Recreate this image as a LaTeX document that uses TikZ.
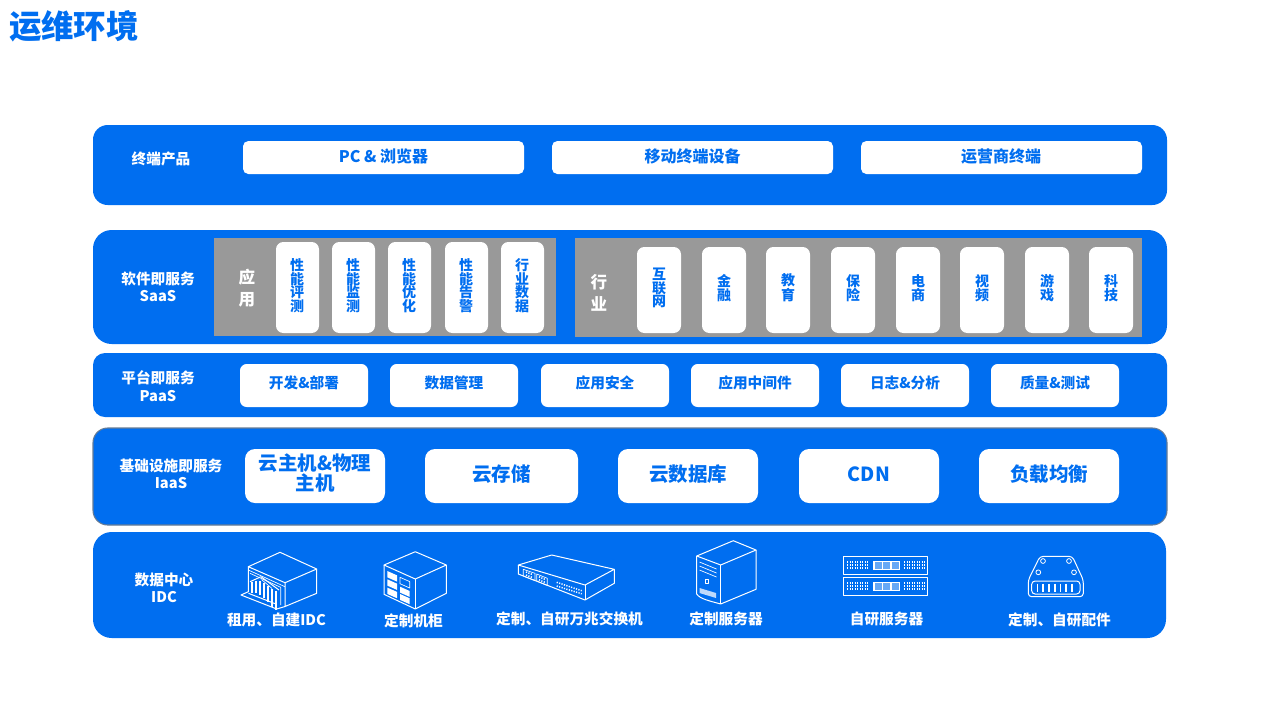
\documentclass[tikz,border=0pt]{standalone}
\usepackage{fontspec}
\setmainfont{Noto Sans CJK SC}
\definecolor{brand}{HTML}{006EF0}
\definecolor{slab}{HTML}{999999}
\newcommand\fpx[2]{\fontsize{#1}{#2}\selectfont\bfseries}
% name, x0, y0, x1, y1, style, text
\newcommand\bx[7]{\node[#6,minimum width={(#4-#2)*0.75pt},minimum height={(#5-#3)*0.75pt}] (#1) at ({(#2+#4)/2},{(#3+#5)/2}) {#7};}
\tikzset{
  x=0.75pt,y=-0.75pt,
  base/.style={inner sep=0pt,outer sep=0pt,align=center},
  panel/.style={base,fill=brand,rounded corners=#1},
  panel/.default=14pt,
  graybox/.style={base,fill=slab},
  card/.style={base,fill=white,text=brand,rounded corners=#1},
  card/.default=4pt,
  rowlabel/.style={base,text=white,font=\fpx{11}{13}},
  iconcap/.style={base,text=white,font=\fpx{11}{13}},
  sidetext/.style={base,text=white,font=\fpx{12.4}{17}},
  wide/.style={card=4pt},
  vert/.style={card=5.5pt},
  mid/.style={card=5pt},
  big/.style={card=7.5pt},
  widetext/.style={base,text=brand,font=\fpx{12}{14}},
  verttext/.style={base,text=brand,font=\fpx{10.5}{10.2}},
  midtext/.style={base,text=brand,font=\fpx{11}{13}},
  bigtext/.style={base,text=brand,font=\fpx{14.6}{14.6}},
  icon/.style={draw=white,line width=0.75pt,line join=round,fill=none},
  iconthin/.style={draw=white,line width=0.5pt,line join=round,fill=none},
  dots/.style={draw=white,line width=1.1pt,dash pattern=on 0.9pt off 1pt},
}
\begin{document}
\begin{tikzpicture}
\useasboundingbox (0,0) rectangle (1279,719);
\fill[white] (0,0) rectangle (1279,719);
\node[base,anchor=west,text=brand,font=\fpx{24.3}{28}] (title) at (9,26) {运维环境};

% ---------- row 1
\bx{p1}{93}{125}{1167}{205}{panel=11pt}{}
\node[rowlabel] (l1) at (161,159) {终端产品};
\bx{a1}{243}{141}{524}{174}{wide}{}
\bx{a2}{552}{141}{833}{174}{wide}{}
\bx{a3}{861}{141}{1142}{174}{wide}{}
\node[widetext] (a1t) at (383.5,156) {PC \& 浏览器};
\node[widetext] (a2t) at (692.5,156) {移动终端设备};
\node[widetext] (a3t) at (1001,156) {运营商终端};

% ---------- row 2
\bx{p2}{93}{230}{1167}{344}{panel=14pt}{}
\node[rowlabel] (l2) at (158,287) {软件即服务\\SaaS};
\bx{g1}{214}{238}{556}{336}{graybox}{}
\bx{g2}{575}{238}{1142}{337}{graybox}{}
\node[sidetext] (g1t) at (247,288) {应\\用};
\node[sidetext] (g2t) at (599,293) {行\\业};
\bx{b1}{276}{242}{319}{333}{vert}{}
\bx{b2}{332}{242}{375}{333}{vert}{}
\bx{b3}{388}{242}{431}{333}{vert}{}
\bx{b4}{445}{242}{488}{333}{vert}{}
\bx{b5}{501}{242}{544}{333}{vert}{}
\node[verttext] (b1t) at (297,285.5) {性\\能\\评\\测};
\node[verttext] (b2t) at (353,285.5) {性\\能\\监\\测};
\node[verttext] (b3t) at (409,285.5) {性\\能\\优\\化};
\node[verttext] (b4t) at (466,285.5) {性\\能\\告\\警};
\node[verttext] (b5t) at (522,285.5) {行\\业\\数\\据};
\bx{c1}{637}{247}{681}{333}{vert}{}
\bx{c2}{702}{247}{746}{333}{vert}{}
\bx{c3}{766}{247}{810}{333}{vert}{}
\bx{c4}{831}{247}{875}{333}{vert}{}
\bx{c5}{896}{247}{940}{333}{vert}{}
\bx{c6}{960}{247}{1004}{333}{vert}{}
\bx{c7}{1025}{247}{1069}{333}{vert}{}
\bx{c8}{1089}{247}{1133}{333}{vert}{}
\node[verttext] (c1t) at (659,288) {互\\联\\网};
\node[verttext] (c2t) at (724,288) {金\\融};
\node[verttext] (c3t) at (788,288) {教\\育};
\node[verttext] (c4t) at (853,288) {保\\险};
\node[verttext] (c5t) at (918,288) {电\\商};
\node[verttext] (c6t) at (982,288) {视\\频};
\node[verttext] (c7t) at (1047,288) {游\\戏};
\node[verttext] (c8t) at (1111,288) {科\\技};

% ---------- row 3
\bx{p3}{93}{353}{1167}{417}{panel=9pt}{}
\node[rowlabel] (l3) at (158,386) {平台即服务\\PaaS};
\bx{d1}{240}{364}{368}{407}{mid}{}
\bx{d2}{390}{364}{518}{407}{mid}{}
\bx{d3}{541}{364}{669}{407}{mid}{}
\bx{d4}{691}{364}{819}{407}{mid}{}
\bx{d5}{841}{364}{969}{407}{mid}{}
\bx{d6}{991}{364}{1119}{407}{mid}{}
\node[midtext] (d1t) at (304,383) {开发\&部署};
\node[midtext] (d2t) at (454,383) {数据管理};
\node[midtext] (d3t) at (605,383) {应用安全};
\node[midtext] (d4t) at (755,383) {应用中间件};
\node[midtext] (d5t) at (905,383) {日志\&分析};
\node[midtext] (d6t) at (1055,383) {质量\&测试};

% ---------- row 4
\bx{p4}{93}{428}{1167}{525}{panel=11pt,draw=gray!80!brand,line width=0.8pt}{}
\node[rowlabel] (l4) at (171,474) {基础设施即服务\\IaaS};
\bx{e1}{245}{449}{385}{503}{big}{}
\bx{e2}{425}{449}{578}{503}{big}{}
\bx{e3}{618}{449}{758}{503}{big}{}
\bx{e4}{799}{449}{939}{503}{big}{}
\bx{e5}{979}{449}{1119}{503}{big}{}
\node[bigtext] (e1t) at (315,473) {云主机\&物理\\主机};
\node[bigtext] (e2t) at (501.5,474) {云存储};
\node[bigtext] (e3t) at (688,474) {云数据库};
\node[bigtext] (e4t) at (869,474) {CDN};
\node[bigtext] (e5t) at (1049,474) {负载均衡};

% ---------- row 5
\bx{p5}{93}{532}{1166}{638}{panel=14pt}{}
\node[rowlabel] (l5) at (164,588) {数据中心\\IDC};
\node[iconcap] (f1) at (276.5,620) {租用、自建IDC};
\node[iconcap] (f2) at (413.5,621) {定制机柜};
\node[iconcap] (f3) at (569.5,619) {定制、自研万兆交换机};
\node[iconcap] (f4) at (726,619) {定制服务器};
\node[iconcap] (f5) at (886.5,619) {自研服务器};
\node[iconcap] (f6) at (1059.5,620) {定制、自研配件};

% building icon
\draw[icon] (248.3,566.7) -- (280,552.3) -- (316.7,569) -- (285,582.7) -- cycle;
\draw[icon] (316.7,569) -- (316.7,593.3) -- (285,606.5) -- (285,582.7);
\draw[icon] (248.3,566.7) -- (248.3,591.7) -- (241,595) -- (276.7,609) -- (285,606.5);
\draw[iconthin] (248.3,570) -- (285,586.7);
\draw[iconthin] (250,573.3) -- (280.7,587.3) -- (280.7,605);
\draw[icon] (250,581.7) -- (261,576.7) -- (279,590);
\draw[iconthin] (261.5,579.5) -- (272,588.5);
\draw[icon] (248.5,593.3) -- (276.7,604.3);
\foreach \i/\t in {252/582,256/581,260/581,264/583,268/586,272/589,276/591} {\draw[icon,line width=1pt] (\i,\t) -- (\i,{\t+11+(\i-252)*0.33});}

% cabinet icon
\draw[icon] (384,565) -- (415.3,551.7) -- (446.3,565) -- (415.3,579) -- cycle;
\draw[icon] (384,565) -- (384,594.3) -- (415.3,609) -- (446.3,593.3) -- (446.3,565);
\draw[icon] (415.3,579) -- (415.3,609);
\foreach \dy in {571,579.3,587.6} {
  \fill[white] (387.3,\dy) -- (397,{\dy+4.3}) -- (397,{\dy+10.6}) -- (387.3,{\dy+6.3}) -- cycle;
}
\draw[iconthin] (400,577.3) -- (409.7,581.6) -- (409.7,588) -- (400,583.7) -- cycle;
\foreach \dy in {586.7,594} {
  \fill[white] (400,\dy) -- (409.7,{\dy+4.3}) -- (409.7,{\dy+10.2}) -- (400,{\dy+5.9}) -- cycle;
}

% switch icon
\draw[icon] (518.3,565) -- (551.7,555) -- (614.3,569.3) -- (585,585) -- cycle;
\draw[icon] (518.3,565) -- (518.3,574) -- (585,600) -- (614.3,583.3) -- (614.3,569.3);
\draw[icon] (585,585) -- (585,600);
\draw[iconthin] (523.3,569.3) -- (535,573.3) -- (535,580.7) -- (523.3,576) -- cycle;
\draw[iconthin] (536.7,574) -- (547.3,578.3) -- (547.3,585.5) -- (536.7,581) -- cycle;
\draw[dots] (526,572) -- (532.5,574.5);
\draw[dots] (526,575) -- (532.5,577.5);
\draw[dots] (539,576.8) -- (545,579.3);
\draw[dots] (539,579.8) -- (545,582.3);
\draw[dots] (556.7,582.3) -- (581.7,590.7);
\draw[dots] (556.7,586) -- (581.7,593.8);

% server icon
\draw[icon] (696.7,556) -- (733.3,540.7) -- (756,550) -- (720.7,565) -- cycle;
\draw[icon] (696.7,556) -- (696.7,594) .. controls (700,599) and (710,601) .. (720.7,604) -- (756,589.3) -- (756,550);
\draw[icon] (720.7,565) -- (720.7,604);
\draw[iconthin] (699.5,562) -- (716.5,569);
\draw[iconthin] (699.5,566) -- (716.5,573);
\draw[iconthin] (699.5,570) -- (716.5,577);
\draw[iconthin] (705,579.5) rectangle (708.5,583.5);
\fill[white,opacity=.75] (699.5,588) -- (716,593) -- (716,598) -- (699.5,593) -- cycle;

% rack icon
\draw[iconthin,line width=0.6pt] (843.3,556.3) rectangle (927.7,574.3);
\draw[iconthin,line width=0.6pt] (843.3,577.3) rectangle (927.7,595.3);
\fill[white] (873.3,560.5) rectangle (900,570);
\fill[white] (873.3,581.5) rectangle (900,591);
\fill[brand!60!white] (875,562) rectangle (881.5,568.5);
\fill[brand!60!white] (883,562) rectangle (890,568.5);
\fill[brand!60!white] (891.5,562) rectangle (898.5,568.5);
\fill[brand!60!white] (875,583) rectangle (881.5,589.5);
\fill[brand!60!white] (883,583) rectangle (890,589.5);
\fill[brand!60!white] (891.5,583) rectangle (898.5,589.5);
\foreach \yy in {0,21} {
  \foreach \dy in {562,565,568} {
    \draw[dots] (847,{\dy+\yy}) -- (868.5,{\dy+\yy});
    \draw[dots] (904,{\dy+\yy}) -- (925.5,{\dy+\yy});
  }
}

% parts icon
\draw[icon,rounded corners=2.5pt] (1040,556.3) -- (1072.3,556.3) -- (1083.3,580) -- (1083.3,596.7) -- (1028.3,596.7) -- (1028.3,580) -- cycle;
\draw[icon,rounded corners=2.5pt] (1031.7,581) rectangle (1080,594);
\foreach \i in {1037.5,1043.2,1049,1054.7,1060.5,1066.2,1072} {\draw[white,line width=1.3pt] (\i,583.5) -- (\i,591.5);}
\foreach \cx/\cy in {1043/561,1069/561,1038.3/572.3,1074/572.3} {\draw[iconthin,line width=0.6pt] (\cx,\cy) circle [radius=2.4];}
\end{tikzpicture}
\end{document}
